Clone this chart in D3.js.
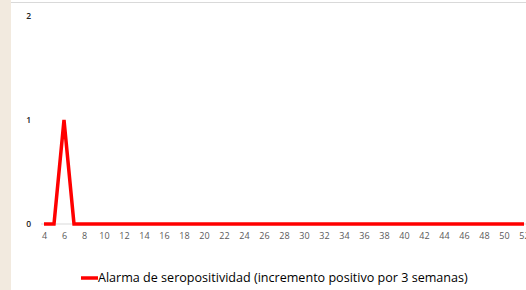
<!DOCTYPE html>
<html><head><meta charset="utf-8">
<script src="https://cdn.jsdelivr.net/npm/d3@7"></script>
<style>html,body{margin:0;padding:0;background:#fff;overflow:hidden}</style>
</head><body>
<svg id="c" width="526" height="290"></svg>
<script>
const weeks = d3.range(4, 53);
const alarmValues = [0,0,1,0,0,0,0,0,0,0,0,0,0,0,0,0,0,0,0,0,0,0,0,0,0,0,0,0,0,0,0,0,0,0,0,0,0,0,0,0,0,0,0,0,0,0,0,0,0];
const xTickLabels = d3.range(4, 53, 2);
const yTickLabels = [0, 1, 2];
const seriesName = "Alarma de seropositividad (incremento positivo por 3 semanas)";

const svg = d3.select("#c");
svg.append("rect").attr("x",0).attr("y",0).attr("width",11).attr("height",290).attr("fill","#F2EADF");
svg.append("line").attr("x1",11).attr("x2",526).attr("y1",2.5).attr("y2",2.5).attr("stroke","#d9d9d9").attr("stroke-width",1);

const x = d3.scaleLinear().domain([4, 52]).range([44, 524]);
const y = d3.scaleLinear().domain([0, 2]).range([224, 16]);

// zero baseline
svg.append("line").attr("x1",41).attr("x2",526).attr("y1",y(0)).attr("y2",y(0)).attr("stroke","#d9d9d9");

// y axis labels
const ya = svg.append("g").attr("transform","translate(31,0)")
  .call(d3.axisLeft(y).tickValues(yTickLabels).tickSize(0).tickPadding(0).tickFormat(d3.format("d")));
ya.select(".domain").remove();
ya.selectAll("text").attr("font-family","Open Sans, sans-serif").attr("font-size",8.5).attr("font-weight",600).attr("fill","#222").attr("dy","0.32em").attr("text-anchor","end");

// x axis labels
const xa = svg.append("g").attr("transform","translate(0,233)")
  .call(d3.axisBottom(x).tickValues(xTickLabels).tickSize(0).tickPadding(0).tickFormat(d3.format("d")));
xa.select(".domain").remove();
xa.selectAll("text").attr("font-family","Open Sans, sans-serif").attr("font-size",9).attr("fill","#595959").attr("dy","0.71em");

// line
const line = d3.line().x((d,i)=>x(weeks[i])).y(d=>y(d));
svg.append("path").datum(alarmValues).attr("d",line).attr("fill","none")
  .attr("stroke","#FF0000").attr("stroke-width",3.5).attr("stroke-linejoin","miter");

// legend
svg.append("line").attr("x1",81).attr("x2",98).attr("y1",278).attr("y2",278).attr("stroke","#FF0000").attr("stroke-width",3.5);
const t = svg.append("text").attr("x",98).attr("y",282).attr("font-family","Open Sans, sans-serif").attr("font-size",12.5).attr("fill","#000").text(seriesName);
const w = t.node().getComputedTextLength();
t.attr("font-size", 12.5 * 370 / w);
</script>
</body></html>
